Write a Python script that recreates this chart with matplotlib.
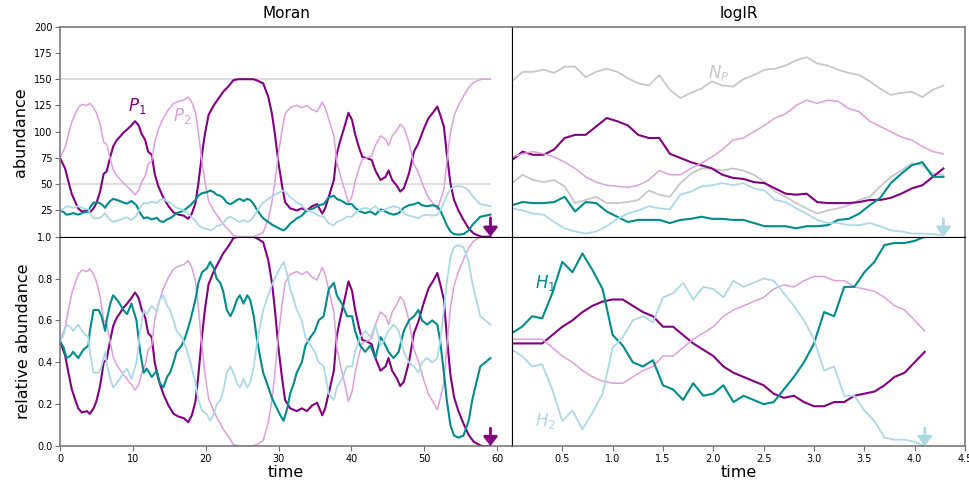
import matplotlib
matplotlib.use("Agg")
import matplotlib.pyplot as plt
import numpy as np

# ---------------- data ----------------
N_P_MORAN = 150
N_H_MORAN = 50

t_P1_moran = [0, 0.7, 1.1, 1.6, 2.1, 2.5, 3.0, 3.7, 4.1, 4.6,
              5.0, 5.5, 6.0, 6.4, 6.9, 7.3, 7.8, 8.2, 8.7, 9.2,
              9.8, 10.3, 10.8, 11.2, 11.7, 12.1, 12.6, 13.0, 13.5, 14.2,
              14.9, 15.6, 16.3, 17.0, 17.6, 18.1, 18.6, 19.0, 19.5, 19.9,
              20.4, 21.1, 21.8, 22.4, 23.1, 23.8, 24.5, 25.5, 26.5, 27.0,
              27.9, 28.6, 29.1, 29.5, 30.0, 30.5, 30.9, 31.6, 32.5, 33.2,
              33.9, 34.6, 35.3, 36.0, 36.4, 36.9, 37.6, 38.0, 38.5, 39.2,
              39.6, 40.1, 40.5, 41.0, 41.5, 42.1, 42.8, 43.3, 44.0, 44.7,
              45.1, 45.6, 46.3, 46.7, 47.2, 47.9, 48.6, 49.2, 49.9, 50.6,
              51.3, 51.8, 52.2, 52.7, 53.1, 53.6, 54.1, 54.7, 55.4, 56.1,
              56.8, 57.5, 57.9, 59.1]
P1_moran = [75, 65, 54, 41, 33, 27, 24, 25, 23, 27,
            32, 43, 60, 62, 76, 86, 92, 95, 99, 102,
            106, 110, 106, 98, 92, 81, 78, 60, 48, 37,
            29, 23, 21, 20, 17, 22, 32, 51, 79, 98,
            116, 125, 132, 138, 143, 149, 150, 150, 150, 149,
            146, 133, 117, 98, 70, 48, 33, 27, 25, 27,
            25, 29, 31, 22, 27, 38, 54, 79, 92, 108,
            118, 111, 98, 86, 76, 75, 73, 63, 54, 57,
            63, 54, 48, 43, 46, 60, 81, 89, 102, 113,
            119, 124, 116, 105, 79, 51, 35, 25, 16, 8,
            3, 1, 0, 0]

t_H1_moran = [0, 0.5, 0.9, 1.4, 1.8, 2.5, 3.2, 3.9, 4.1, 4.6,
              5.3, 5.7, 6.2, 6.4, 6.9, 7.3, 7.8, 8.2, 8.7, 9.2,
              9.8, 10.5, 11.0, 11.5, 11.9, 12.6, 13.3, 13.7, 14.2, 14.7,
              15.1, 15.6, 16.0, 16.7, 17.2, 17.9, 18.6, 19.0, 19.5, 20.2,
              20.6, 21.1, 21.5, 22.0, 22.4, 22.9, 23.4, 23.8, 24.3, 24.7,
              25.2, 25.7, 26.1, 26.6, 27.0, 27.5, 27.9, 28.4, 29.1, 29.5,
              30.2, 30.7, 31.2, 31.6, 32.1, 32.5, 33.2, 33.7, 34.4, 35.0,
              35.5, 36.2, 36.9, 37.6, 38.0, 38.7, 39.4, 40.1, 40.5, 41.2,
              41.9, 42.6, 43.3, 44.0, 44.4, 45.1, 45.8, 46.5, 47.2, 47.9,
              48.6, 49.2, 49.7, 50.4, 51.1, 51.8, 52.2, 52.7, 53.1, 53.6,
              54.1, 54.7, 55.4, 56.1, 56.6, 57.0, 57.7, 58.4, 59.1]
relH1_moran = [0.50, 0.47, 0.42, 0.43, 0.45, 0.42, 0.46, 0.48, 0.55, 0.65,
               0.65, 0.62, 0.55, 0.60, 0.68, 0.72, 0.70, 0.68, 0.65, 0.63,
               0.68, 0.60, 0.45, 0.35, 0.37, 0.33, 0.36, 0.30, 0.28, 0.33,
               0.35, 0.40, 0.45, 0.48, 0.52, 0.60, 0.70, 0.78, 0.83, 0.85,
               0.88, 0.85, 0.80, 0.78, 0.74, 0.65, 0.62, 0.65, 0.70, 0.72,
               0.68, 0.72, 0.70, 0.62, 0.52, 0.42, 0.35, 0.30, 0.23, 0.20,
               0.15, 0.12, 0.18, 0.25, 0.30, 0.35, 0.40, 0.48, 0.52, 0.55,
               0.60, 0.62, 0.75, 0.78, 0.72, 0.68, 0.62, 0.62, 0.55, 0.48,
               0.45, 0.48, 0.42, 0.52, 0.50, 0.45, 0.42, 0.45, 0.55, 0.60,
               0.62, 0.65, 0.60, 0.58, 0.60, 0.58, 0.50, 0.35, 0.22, 0.10,
               0.05, 0.04, 0.05, 0.12, 0.22, 0.28, 0.38, 0.40, 0.42]

t_logir = [0.0, 0.1, 0.2, 0.3, 0.4, 0.5, 0.6, 0.7, 0.8, 0.9,
           1.0, 1.1, 1.2, 1.3, 1.4, 1.5, 1.6, 1.7, 1.8, 1.9,
           2.0, 2.1, 2.2, 2.3, 2.4, 2.5, 2.6, 2.7, 2.8, 2.9,
           3.0, 3.1, 3.2, 3.3, 3.4, 3.5, 3.6, 3.7, 3.8, 3.9,
           4.0, 4.1]
NP_logir = [148, 157, 157, 159, 156, 162, 162, 152, 157, 160,
            157, 151, 146, 144, 154, 140, 132, 137, 141, 148,
            144, 143, 150, 154, 159, 160, 163, 168, 171, 165,
            163, 159, 156, 154, 148, 141, 135, 137, 138, 133,
            140, 144]
P1_logir = [73, 81, 78, 78, 83, 94, 97, 97, 105, 113,
            110, 106, 97, 94, 94, 79, 75, 71, 68, 65,
            59, 56, 55, 52, 51, 46, 41, 40, 41, 33,
            32, 32, 32, 33, 35, 35, 37, 41, 46, 49,
            57, 65]
P2_logir = [76, 79, 81, 79, 76, 71, 65, 57, 52, 49,
            48, 47, 49, 54, 63, 59, 59, 65, 70, 76,
            83, 92, 94, 100, 106, 113, 117, 125, 130, 127,
            130, 129, 122, 119, 110, 105, 100, 95, 92, 86,
            81, 79]
NH_logir = [51, 59, 54, 52, 54, 48, 32, 35, 38, 32,
            32, 33, 35, 44, 40, 38, 51, 60, 65, 65,
            63, 65, 63, 59, 52, 43, 38, 32, 27, 22,
            25, 27, 30, 35, 38, 48, 57, 63, 70, 68,
            60, 59]
H1_logir = [30, 33, 32, 32, 33, 38, 24, 33, 32, 24,
            19, 14, 16, 16, 16, 13, 16, 17, 19, 17,
            17, 16, 16, 13, 10, 10, 10, 8, 10, 10,
            11, 16, 17, 22, 30, 37, 51, 60, 68, 71,
            57, 57]
H2_logir = [27, 25, 22, 21, 14, 8, 5, 3, 5, 10,
            17, 22, 25, 29, 27, 26, 40, 43, 48, 49,
            51, 49, 51, 46, 44, 35, 33, 27, 22, 16,
            13, 13, 11, 11, 13, 10, 6, 5, 3, 3,
            2.5, 1.5]
relP1_logir = [0.49, 0.49, 0.49, 0.49, 0.53, 0.57, 0.60, 0.64, 0.67, 0.69,
               0.70, 0.70, 0.67, 0.64, 0.62, 0.57, 0.57, 0.53, 0.49, 0.46,
               0.43, 0.38, 0.35, 0.33, 0.31, 0.29, 0.25, 0.23, 0.24, 0.21,
               0.19, 0.19, 0.21, 0.21, 0.24, 0.25, 0.26, 0.29, 0.33, 0.35,
               0.40, 0.45]
relH1_logir = [0.54, 0.57, 0.62, 0.61, 0.73, 0.88, 0.83, 0.92, 0.84, 0.75,
               0.53, 0.48, 0.40, 0.38, 0.41, 0.29, 0.27, 0.22, 0.30, 0.24,
               0.25, 0.29, 0.21, 0.24, 0.22, 0.20, 0.21, 0.27, 0.33, 0.40,
               0.49, 0.64, 0.62, 0.76, 0.76, 0.83, 0.88, 0.96, 0.97, 0.97,
               0.98, 1.00]

top_yticks = [25, 50, 75, 100, 125, 150, 175, 200]
bottom_yticks = [0.0, 0.2, 0.4, 0.6, 0.8, 1.0]
moran_xticks = [0, 10, 20, 30, 40, 50, 60]
logir_xticks = [0.5, 1.0, 1.5, 2.0, 2.5, 3.0, 3.5, 4.0, 4.5]

# ---------------- derived ----------------
P1m = np.array(P1_moran, float)
P2m = N_P_MORAN - P1m
rH1m = np.array(relH1_moran, float)
H1m = rH1m * N_H_MORAN
H2m = N_H_MORAN - H1m
rP1m = P1m / N_P_MORAN
rP2m = 1 - rP1m
rH2m = 1 - rH1m
rP1l = np.array(relP1_logir)
rH1l = np.array(relH1_logir)

C_P1 = '#800080'
C_P2 = '#dda0dd'
C_H1 = '#008b8b'
C_H2 = '#add8e6'
C_N = '#c8c8c8'
OUT = '#707070'

plt.rcParams['font.family'] = ['DejaVu Sans']
fig = plt.figure(figsize=(9.69, 4.87), dpi=100)
L0, L1, R1 = 60 / 969, 512 / 969, 965 / 969
B0, M, T0 = 1 - 446 / 487, 1 - 236.7 / 487, 1 - 26.7 / 487
ax_tl = fig.add_axes([L0, M, L1 - L0, T0 - M])
ax_bl = fig.add_axes([L0, B0, L1 - L0, M - B0])
ax_tr = fig.add_axes([L1, M, R1 - L1, T0 - M])
ax_br = fig.add_axes([L1, B0, R1 - L1, M - B0])

lwP1, lwP2, lwH1, lwH2, lwN = 1.5, 1.1, 1.5, 1.3, 1.3

# Moran top
ax = ax_tl
tend = t_P1_moran[-1]
ax.plot([0, tend], [N_P_MORAN, N_P_MORAN], color='#d3d3d3', lw=1.1)
ax.plot([0, tend], [N_H_MORAN, N_H_MORAN], color='#d3d3d3', lw=1.1)
ax.plot(t_P1_moran, P1m, color=C_P1, lw=lwP1)
ax.plot(t_P1_moran, P2m, color=C_P2, lw=lwP2)
ax.plot(t_H1_moran, H1m, color=C_H1, lw=lwH1)
ax.plot(t_H1_moran, H2m, color=C_H2, lw=lwH2)
ax.text(9.3, 124, '$P_1$', color=C_P1, fontsize=12, ha='left', va='center')
ax.text(15.5, 115, '$P_2$', color=C_P2, fontsize=12, ha='left', va='center')
ax.annotate('', xy=(tend, 0), xytext=(tend, 18), annotation_clip=False,
            arrowprops=dict(arrowstyle='-|>,head_width=0.35,head_length=0.45',
                            color=C_P1, lw=2, shrinkA=0, shrinkB=0, mutation_scale=12))
ax.set_ylim(0, 200)
ax.set_yticks(top_yticks)
ax.set_xlim(0, tend * 1.05)
ax.set_xticks([])
ax.set_ylabel('abundance', fontsize=11.5)
ax.set_title('Moran', fontsize=11)

# Moran bottom
ax = ax_bl
ax.plot(t_P1_moran, rP1m, color=C_P1, lw=lwP1)
ax.plot(t_P1_moran, rP2m, color=C_P2, lw=lwP2)
ax.plot(t_H1_moran, rH1m, color=C_H1, lw=lwH1)
ax.plot(t_H1_moran, rH2m, color=C_H2, lw=lwH2)
ax.annotate('', xy=(tend, 0), xytext=(tend, 0.085), annotation_clip=False,
            arrowprops=dict(arrowstyle='-|>,head_width=0.35,head_length=0.45',
                            color=C_P1, lw=2, shrinkA=0, shrinkB=0, mutation_scale=12))
ax.set_ylim(0, 1)
ax.set_yticks(bottom_yticks)
ax.set_xlim(0, tend * 1.05)
ax.set_xticks(moran_xticks)
ax.set_ylabel('relative abundance', fontsize=11.5)
ax.set_xlabel('time', fontsize=11.5, labelpad=1)

# logIR top
ax = ax_tr
tl_end = t_logir[-1]
ax.plot(t_logir, NP_logir, color=C_N, lw=lwN)
ax.plot(t_logir, NH_logir, color=C_N, lw=lwN)
ax.plot(t_logir, P1_logir, color=C_P1, lw=lwP1)
ax.plot(t_logir, P2_logir, color=C_P2, lw=lwP2)
ax.plot(t_logir, H1_logir, color=C_H1, lw=lwH1)
ax.plot(t_logir, H2_logir, color=C_H2, lw=lwH2)
ax.text(1.86, 156, '$N_P$', color=C_N, fontsize=12, ha='left', va='center')
ax.annotate('', xy=(tl_end, 0), xytext=(tl_end, 17), annotation_clip=False,
            arrowprops=dict(arrowstyle='-|>,head_width=0.35,head_length=0.45',
                            color=C_H2, lw=2, shrinkA=0, shrinkB=0, mutation_scale=12))
ax.set_ylim(0, 200)
ax.set_yticks([])
ax.set_xlim(0, tl_end * 1.05)
ax.set_xticks([])
ax.set_title('logIR', fontsize=11)

# logIR bottom
ax = ax_br
ax.plot(t_logir, rP1l, color=C_P1, lw=lwP1)
ax.plot(t_logir, 1 - rP1l, color=C_P2, lw=lwP2)
ax.plot(t_logir, rH1l, color=C_H1, lw=lwH1)
ax.plot(t_logir, 1 - rH1l, color=C_H2, lw=lwH2)
ax.text(0.23, 0.78, '$H_1$', color=C_H1, fontsize=12, ha='left', va='center')
ax.text(0.23, 0.12, '$H_2$', color=C_H2, fontsize=12, ha='left', va='center')
ax.annotate('', xy=(tl_end, 0), xytext=(tl_end, 0.085), annotation_clip=False,
            arrowprops=dict(arrowstyle='-|>,head_width=0.35,head_length=0.45',
                            color=C_H2, lw=2, shrinkA=0, shrinkB=0, mutation_scale=12))
ax.set_ylim(0, 1)
ax.set_yticks([])
ax.set_xlim(0, 4.5)
ax.set_xticks(logir_xticks)
ax.set_xlabel('time', fontsize=11.5, labelpad=1)

# spines
outer = {ax_tl: ('left', 'top'), ax_bl: ('left', 'bottom'),
         ax_tr: ('right', 'top'), ax_br: ('right', 'bottom')}
for a, outs in outer.items():
    for name, sp in a.spines.items():
        if name in outs:
            sp.set_color(OUT)
            sp.set_linewidth(1.1)
        else:
            sp.set_color('black')
            sp.set_linewidth(0.8)
    a.tick_params(axis='both', labelsize=7, length=3.5, width=0.8, color=OUT, pad=2)

fig.savefig('out.png', dpi=100)
